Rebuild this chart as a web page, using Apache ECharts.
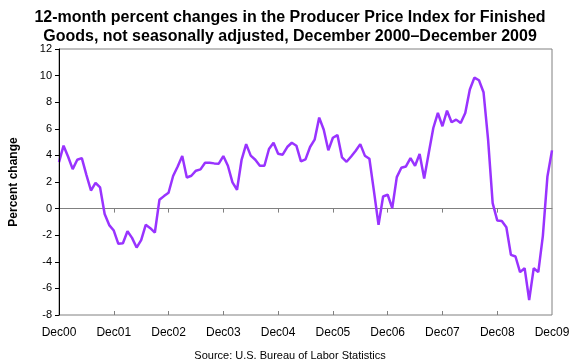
<!DOCTYPE html>
<html><head><meta charset="utf-8">
<script src="https://cdn.jsdelivr.net/npm/echarts@6/dist/echarts.min.js"></script>
<style>html,body{margin:0;padding:0;background:#fff}#c{width:580px;height:360px}</style>
</head><body><div id="c"></div>
<script>
var yearLabels = ['Dec00','Dec01','Dec02','Dec03','Dec04','Dec05','Dec06','Dec07','Dec08','Dec09'];
var values = [
 3.5, 4.73, 3.9, 2.97, 3.67, 3.8, 2.54, 1.36, 1.94, 1.59, -0.4, -1.24,
 -1.65, -2.65, -2.6, -1.7, -2.2, -2.93, -2.37, -1.22, -1.47, -1.8, 0.66, 0.94,
 1.19, 2.45, 3.17, 3.95, 2.34, 2.47, 2.85, 2.95, 3.45, 3.45, 3.4, 3.38,
 3.95, 3.22, 1.97, 1.42, 3.67, 4.85, 3.98, 3.67, 3.22, 3.22, 4.48, 4.95,
 4.13, 4.05, 4.63, 4.95, 4.73, 3.55, 3.7, 4.63, 5.18, 6.84, 5.93, 4.38,
 5.33, 5.53, 3.85, 3.52, 3.92, 4.35, 4.85, 3.98, 3.75, 1.29, -1.22, 0.91,
 1.04, 0.03, 2.37, 3.07, 3.17, 3.8, 3.22, 4.1, 2.26, 4.18, 6.06, 7.19,
 6.19, 7.36, 6.49, 6.69, 6.43, 7.19, 8.95, 9.85, 9.65, 8.75, 5.18, 0.41,
 -0.89, -0.94, -1.4, -3.48, -3.6, -4.78, -4.48, -6.87, -4.48, -4.78, -2.05, 2.42,
 4.38
];
var months = values.map(function(v,i){ return i % 12 === 0 ? yearLabels[i/12] : 'm' + i; });
var FONT = 'Liberation Sans, Arial, sans-serif';
var chart = echarts.init(document.getElementById('c'));
chart.setOption({
  animation: false,
  title: [{
    text: '12-month percent changes in the Producer Price Index for Finished\nGoods, not seasonally adjusted, December 2000\u2013December 2009',
    left: 'center', top: 3,
    textStyle: {fontFamily: FONT, fontSize: 16, fontWeight: 'bold', color: '#000', lineHeight: 19}
  },{
    text: 'Source: U.S. Bureau of Labor Statistics',
    left: 'center', top: 345,
    textStyle: {fontFamily: FONT, fontSize: 11, fontWeight: 'normal', color: '#000'}
  }],
  grid: {left: 52, right: 28, top: 49, bottom: 45, show: true, borderColor: '#808080', borderWidth: 1},
  xAxis: [{
    type: 'category', data: months, boundaryGap: false,
    axisLine: {show: false, onZero: false},
    axisTick: {show: false},
    axisLabel: {
      interval: function(i){ return i % 12 === 0; },
      formatter: function(v){ return v.charAt(0) === 'm' ? '' : v; },
      margin: 12, fontFamily: FONT, fontSize: 12, color: '#000'
    },
    splitLine: {show: false}
  },{
    type: 'category', data: months, boundaryGap: false, position: 'bottom',
    axisLine: {show: true, onZero: true, lineStyle: {color: '#808080', width: 1}},
    axisTick: {show: true, inside: false, length: 4, lineStyle: {color: '#808080'},
      interval: function(i){ return i % 12 === 0 && i > 0 && i < 108; }},
    axisLabel: {show: false}, splitLine: {show: false}
  },{
    type: 'category', data: months, boundaryGap: false, position: 'bottom',
    axisLine: {show: false, onZero: true},
    axisTick: {show: true, inside: true, length: 4, lineStyle: {color: '#808080'},
      interval: function(i){ return i % 12 === 0 && i > 0 && i < 108; }},
    axisLabel: {show: false}, splitLine: {show: false}
  }],
  yAxis: {
    type: 'value', min: -8, max: 12, interval: 2, z: 10,
    name: 'Percent change', nameLocation: 'middle', nameGap: 39,
    nameTextStyle: {fontFamily: FONT, fontSize: 12, fontWeight: 'bold', color: '#000'},
    axisLine: {show: true, lineStyle: {color: '#000', width: 1}},
    axisTick: {show: true, length: 4, lineStyle: {color: '#000'}},
    axisLabel: {fontFamily: FONT, fontSize: 11, color: '#000', margin: 7},
    splitLine: {show: false}
  },
  series: [{
    type: 'line', data: values, xAxisIndex: 0, showSymbol: false, symbol: 'none',
    lineStyle: {color: '#9933ff', width: 2.5}, z: 5
  }]
});
</script></body></html>
